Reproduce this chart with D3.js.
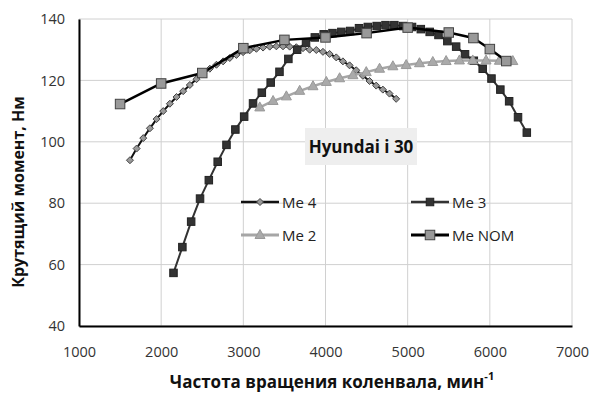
<!DOCTYPE html>
<html><head><meta charset="utf-8">
<script src="https://cdn.jsdelivr.net/npm/d3@7"></script>
<style>body{margin:0;background:#fff}svg{display:block;font-family:"Open Sans",sans-serif}</style>
</head><body>
<svg id="c" width="591" height="401"></svg>
<script>
const xTicks = [1000,2000,3000,4000,5000,6000,7000];
const yTicks = [40,60,80,100,120,140];

const me4X = [1620,1701,1782,1863,1944,2025,2106,2187,2268,2349,2430,2511,2592,2673,2754,2835,2916,2997,3078,3159,3240,3321,3402,3483,3564,3645,3726,3807,3888,3969,4050,4131,4212,4293,4374,4455,4536,4617,4698,4779,4860];
const me4Y = [94,97.8,101.2,104.4,107.4,110,112.4,114.6,116.5,118.5,120.4,122.2,123.8,125.1,126.2,127.3,128.3,129.2,129.8,130.3,130.7,131,131.1,131.1,131,130.8,130.5,130,129.9,129.3,128.6,127.5,126.2,124.9,123.3,121.5,119.8,118.3,117,115.7,114];

const me3X = [2150,2258,2365,2473,2580,2688,2795,2903,3010,3118,3225,3333,3440,3548,3655,3763,3870,3978,4085,4193,4300,4408,4515,4623,4730,4838,4945,5053,5160,5268,5375,5483,5590,5698,5805,5913,6020,6128,6235,6343,6450];
const me3Y = [57.3,65.7,74,81.5,87.5,93.5,99,104,108.2,112.5,116,119.3,122.8,127,130,132.3,134,135,135.4,135.8,136.1,137,137.4,137.7,138,138,137.7,137.4,136.7,135.8,134.8,132.8,131,128.5,126.4,123.8,120.6,117,113.2,108,103];

const me2X = [3200,3362,3524,3686,3848,4010,4172,4334,4496,4658,4820,4982,5144,5306,5468,5630,5792,5954,6116,6280];
const me2Y = [111.2,113.3,114.8,116.6,118.1,119.5,120.7,121.7,122.7,123.8,124.6,125,125.6,126,126.3,126.5,126.5,126.5,126.4,126.3];

const nomX = [1500,2000,2500,3000,3500,4000,4500,5000,5500,5800,6000,6200];
const nomY = [112.3,119,122.4,130.5,133.2,134,135.4,137.2,135.6,133.8,130.2,126.3];

const seriesNames = ["Me 4","Me 3","Me 2","Me NOM"];

const svg = d3.select("#c");
const x = d3.scaleLinear().domain([1000,7000]).range([79,572]);
const y = d3.scaleLinear().domain([40,140]).range([326,19]);

// grid
svg.append("g").selectAll("line").data(yTicks).join("line")
  .attr("x1",x(1000)).attr("x2",x(7000)).attr("y1",d=>y(d)).attr("y2",d=>y(d))
  .attr("stroke","#d0d0d0").attr("stroke-width",1);
svg.append("g").selectAll("line").data(xTicks).join("line")
  .attr("y1",y(40)).attr("y2",y(140)).attr("x1",d=>x(d)).attr("x2",d=>x(d))
  .attr("stroke","#d0d0d0").attr("stroke-width",1);

// axes
const xa = svg.append("g").attr("transform",`translate(0,${y(40)})`)
  .call(d3.axisBottom(x).tickValues(xTicks).tickSize(0).tickPadding(21).tickFormat(d3.format("d")));
xa.select(".domain").attr("stroke","#000").attr("stroke-width",2);
xa.selectAll("text").attr("font-size",14.5).attr("fill","#333").attr("font-family","Open Sans");
const ya = svg.append("g").attr("transform",`translate(${x(1000)},0)`)
  .call(d3.axisLeft(y).tickValues(yTicks).tickSize(0).tickPadding(14));
ya.select(".domain").attr("stroke","#000").attr("stroke-width",2);
ya.selectAll("text").attr("font-size",14.5).attr("fill","#333").attr("font-family","Open Sans");

// label box
svg.append("rect").attr("x",305).attr("y",128).attr("width",112).attr("height",37).attr("fill","#eeeeee");
svg.append("text").attr("x",361).attr("y",153).attr("text-anchor","middle")
  .attr("font-size",17).attr("font-weight","bold").attr("fill","#111").text("Hyundai i 30");

const line = d3.line().x(d=>x(d[0])).y(d=>y(d[1]));
const zip = (a,b)=>a.map((v,i)=>[v,b[i]]);

const styles = {
  "Me 4": {line:"#111", lw:2, fill:"#999", stroke:"#444", shape:"diamond", size:7},
  "Me 3": {line:"#333", lw:2, fill:"#333", stroke:"#222", shape:"square", size:7.5},
  "Me 2": {line:"#a6a6a6", lw:2.5, fill:"#aaa", stroke:"#999", shape:"triangle", size:10},
  "Me NOM": {line:"#000", lw:2.5, fill:"#999", stroke:"#444", shape:"square", size:9.5}
};
const data = {"Me 4":zip(me4X,me4Y),"Me 3":zip(me3X,me3Y),"Me 2":zip(me2X,me2Y),"Me NOM":zip(nomX,nomY)};

function marker(g,cx,cy,s){
  if(s.shape==="square"){
    g.append("rect").attr("x",cx-s.size/2).attr("y",cy-s.size/2).attr("width",s.size).attr("height",s.size)
     .attr("fill",s.fill).attr("stroke",s.stroke).attr("stroke-width",1);
  } else if(s.shape==="diamond"){
    const r=s.size/2;
    g.append("path").attr("d",`M${cx},${cy-r}L${cx+r},${cy}L${cx},${cy+r}L${cx-r},${cy}Z`)
     .attr("fill",s.fill).attr("stroke",s.stroke).attr("stroke-width",1);
  } else {
    const h=s.size*0.9, w=s.size;
    g.append("path").attr("d",`M${cx},${cy-h/2-1}L${cx+w/2},${cy+h/2-1}L${cx-w/2},${cy+h/2-1}Z`)
     .attr("fill",s.fill).attr("stroke",s.stroke).attr("stroke-width",1);
  }
}

seriesNames.forEach(n=>{
  const s=styles[n], g=svg.append("g");
  g.append("path").datum(data[n]).attr("d",line).attr("fill","none")
    .attr("stroke",s.line).attr("stroke-width",s.lw).attr("stroke-linejoin","round");
  data[n].forEach(d=>marker(g,x(d[0]),y(d[1]),s));
});

// legend
const legPos = {"Me 4":[241,202],"Me 3":[411,202],"Me 2":[241,235],"Me NOM":[411,235]};
seriesNames.forEach(n=>{
  const s=styles[n], [lx,ly]=legPos[n], g=svg.append("g");
  g.append("line").attr("x1",lx).attr("x2",lx+38).attr("y1",ly).attr("y2",ly)
    .attr("stroke",s.line).attr("stroke-width",s.lw+0.5);
  marker(g,lx+19,ly,s);
  g.append("text").attr("x",lx+41).attr("y",ly+5.5).attr("font-size",15).attr("fill","#222").text(n);
});

// titles
const xt = svg.append("text").attr("x",332).attr("y",388).attr("text-anchor","middle")
  .attr("font-size",17).attr("font-weight","bold").attr("fill","#111");
xt.append("tspan").text("Частота вращения коленвала, мин");
xt.append("tspan").attr("font-size",11).attr("dy",-8).text("-1");
svg.append("text").attr("transform","translate(24,192) rotate(-90)").attr("text-anchor","middle")
  .attr("font-size",16).attr("font-weight","bold").attr("fill","#111").text("Крутящий момент, Нм");
</script>
</body></html>
